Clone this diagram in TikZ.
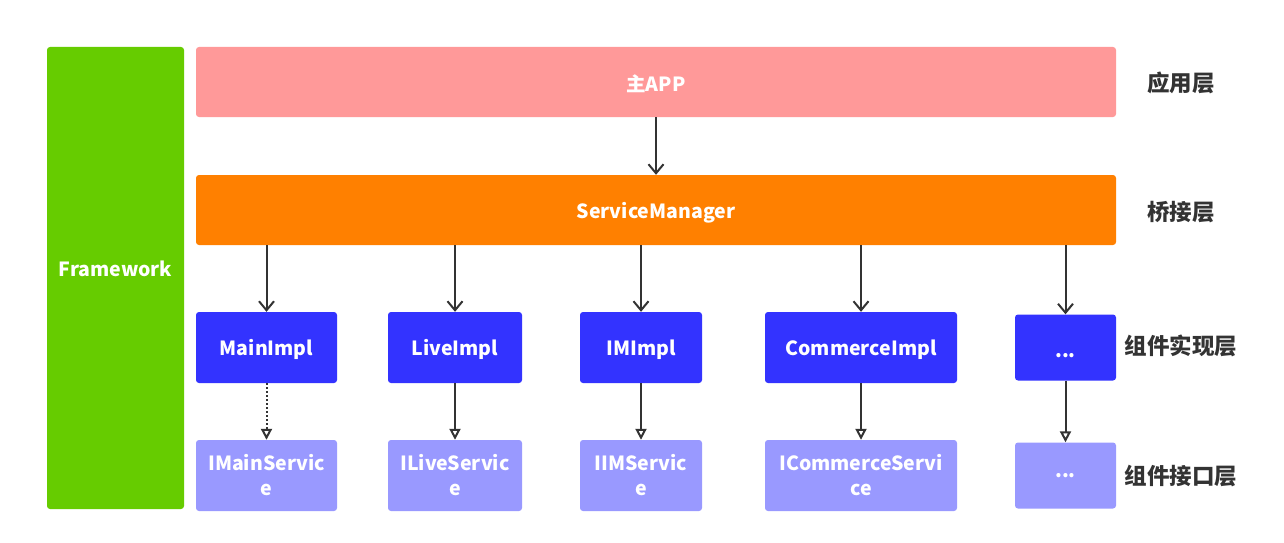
\documentclass[tikz,border=0pt]{standalone}
\usepackage{fontspec}
\setmainfont{Noto Sans CJK SC}
\usetikzlibrary{arrows.meta}
\definecolor{fwgreen}{HTML}{66CC00}
\definecolor{apppink}{HTML}{FF9999}
\definecolor{smorange}{HTML}{FF8000}
\definecolor{implblue}{HTML}{3333FF}
\definecolor{ifblue}{HTML}{9999FF}
\definecolor{linegray}{HTML}{333333}
\newcommand{\more}{...}
\begin{document}
\begin{tikzpicture}[
			x=1pt, y=-1pt,
			box/.style = {rectangle, rounded corners=3pt, inner sep=0pt,
				text=white, font=\bfseries\fontsize{19.5}{25}\selectfont,
				align=center},
			line1/.style = {box, text height=21pt},% one line of text
			layer/.style = {text=linegray, font=\bfseries\fontsize{22.5}{26}\selectfont},
			link/.style = {draw=linegray, line width=2pt,
				-{Straight Barb[length=9pt,width=15pt]}},
			impl/.style = {draw=linegray, line width=2pt,
				-{Triangle[open,length=11pt,width=11pt]}},
			]
			\useasboundingbox[fill=white] (0,0) rectangle (1284,543);
			% left bar and the two wide layers
			\node[box, fill=fwgreen, minimum width=137pt, minimum height=462pt,
				label={[line1, yshift=12pt]center:Framework}] (fw) at (115.5,278) {};
			\node[line1, fill=apppink, minimum width=920pt, minimum height=70pt] (app) at (656,82) {主APP};
			\node[line1, fill=smorange, minimum width=920pt, minimum height=70pt] (sm) at (656,210) {ServiceManager};
			\draw[link] (app.south) -- (sm.north);
			% components: number/x/width/height/impl/interface
			\foreach \n/\x/\w/\h/\a/\b in {1/266.5/141/71/MainImpl/{IMainServic\\e},
				2/455/134/71/LiveImpl/{ILiveServic\\e},
				3/641/122/71/IMImpl/{IIMServic\\e},
				4/861/192/71/CommerceImpl/{ICommerceServi\\ce},
				5/1065.5/101/66/\more/\more}{
				\node[line1, fill=implblue, minimum width=\w pt, minimum height=\h pt] (impl-\n) at (\x,347.5) {\a};
				\node[box, fill=ifblue, minimum width=\w pt, minimum height=\h pt] (if-\n) at (\x,475.5) {\b};
				\draw[link] (impl-\n.north |- sm.south) -- (impl-\n.north);
			}
			\draw[impl, dotted] (impl-1) -- (if-1);
			\foreach \n in {2,3,4,5}
			\draw[impl] (impl-\n) -- (if-\n);
			% layer names
			\node[layer] (l-app) at (1181,83) {应用层};
			\node[layer] (l-sm) at (1181,212) {桥接层};
			\node[layer] (l-impl) at (1181,346) {组件实现层};
			\node[layer] (l-if) at (1181,476) {组件接口层};
		\end{tikzpicture}
\end{document}
